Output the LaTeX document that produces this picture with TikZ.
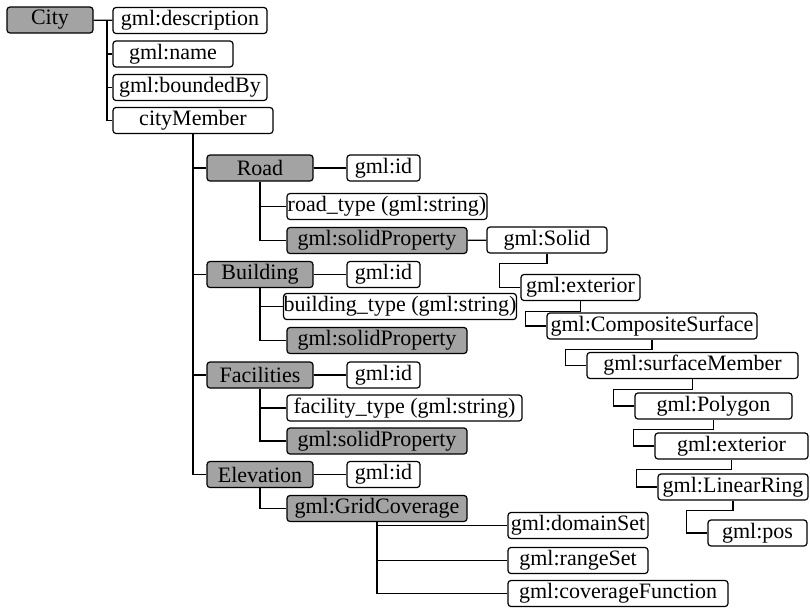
\documentclass[tikz,border=0pt]{standalone}
\usepackage{fontspec}
\setmainfont{Liberation Serif}
\usepackage{tikz}

\begin{document}
\begin{tikzpicture}[
    x=0.5pt, y=-0.5pt,
    every node/.style={font=\fontsize{11}{12}\selectfont},
    attr/.style={rectangle, draw, rounded corners=1.5pt, minimum height=13pt, inner sep=0pt, line width=0.6pt},
    elem/.style={attr, fill=black!36},
    ln/.style={line width=0.6pt},
  ]
  \useasboundingbox (0,0) rectangle (810,607);
  % root
  \node[elem, minimum width=43pt] (city) at (50, 20) {City};
  \node[attr, minimum width=77pt] (desc) at (190, 20.5) {gml:description};
  \node[attr, minimum width=60pt] (name) at (173, 54) {gml:name};
  \node[attr, minimum width=77pt] (bbox) at (190, 87.5) {gml:boundedBy};
  \node[attr, minimum width=80pt] (member) at (193, 120.5) {cityMember};
  % features
  \node[elem, minimum width=53pt] (road) at (260, 168) {Road};
  \node[attr, minimum width=36.5pt] (roadid) at (383.5, 168) {gml:id};
  \node[attr, minimum width=100pt] (roadtype) at (387, 206.5) {road\_type (gml:string)};
  \node[elem, minimum width=90pt] (roadsolid) at (377, 240.5) {gml:solidProperty};
  \node[elem, minimum width=53pt] (bld) at (260, 274.5) {Building};
  \node[attr, minimum width=36.5pt] (bldid) at (383.5, 274.5) {gml:id};
  \node[attr, minimum width=113pt] (bldtype) at (400, 306.5) {building\_type (gml:string)};
  \node[elem, minimum width=90pt] (bldsolid) at (377, 340.5) {gml:solidProperty};
  \node[elem, minimum width=53pt] (fac) at (260, 375) {Facilities};
  \node[attr, minimum width=36.5pt] (facid) at (383.5, 375) {gml:id};
  \node[attr, minimum width=117.5pt] (factype) at (404.5, 408) {facility\_type (gml:string)};
  \node[elem, minimum width=90pt] (facsolid) at (377, 441) {gml:solidProperty};
  \node[elem, minimum width=53pt] (elev) at (260, 474.5) {Elevation};
  \node[attr, minimum width=36.5pt] (elevid) at (383.5, 474.5) {gml:id};
  \node[elem, minimum width=90pt] (grid) at (377, 508.5) {gml:GridCoverage};
  % coverage
  \node[attr, minimum width=70pt] (domain) at (578, 525.5) {gml:domainSet};
  \node[attr, minimum width=70pt] (range) at (578, 560.5) {gml:rangeSet};
  \node[attr, minimum width=110pt] (covfn) at (618, 593.5) {gml:coverageFunction};
  % geometry
  \node[attr, minimum width=60pt] (solid) at (547, 240) {gml:Solid};
  \node[attr, minimum width=59.5pt] (ext1) at (580.5, 287.5) {gml:exterior};
  \node[attr, minimum width=105pt] (comp) at (652, 326) {gml:CompositeSurface};
  \node[attr, minimum width=105.5pt] (surf) at (692.5, 365.5) {gml:surfaceMember};
  \node[attr, minimum width=78.5pt] (poly) at (713.5, 406) {gml:Polygon};
  \node[attr, minimum width=76.5pt] (ext2) at (731.5, 446) {gml:exterior};
  \node[attr, minimum width=75pt] (ring) at (733, 487) {gml:LinearRing};
  \node[attr, minimum width=49.5pt] (pos) at (757.5, 533) {gml:pos};

  \coordinate (t0) at (107, 20);
  \draw[ln] (city) -- (desc);
  \foreach \c in {name, bbox, member}
    \draw[ln] (t0) |- (\c);
  \foreach \c in {road, bld, fac, elev}
    \draw[ln] (member.south) |- (\c);
  \draw[ln] (road) -- (roadid);
  \draw[ln] (bld) -- (bldid);
  \draw[ln] (fac) -- (facid);
  \draw[ln] (elev) -- (elevid);
  \draw[ln] (road.south) |- (roadtype);
  \draw[ln] (road.south) |- (roadsolid);
  \draw[ln] (bld.south) |- (bldtype);
  \draw[ln] (bld.south) |- (bldsolid);
  \draw[ln] (fac.south) |- (factype);
  \draw[ln] (fac.south) |- (facsolid);
  \draw[ln] (elev.south) |- (grid);
  \foreach \c in {domain, range, covfn}
    \draw[ln] (grid.south) |- (\c);
  \draw[ln] (roadsolid) -- (solid);
  \foreach \a/\b in {solid/ext1, ext1/comp, comp/surf, surf/poly, poly/ext2, ext2/ring, ring/pos}
    \draw[ln] (\a.south) -- ++(0,10) -| ([xshift=-10.5pt]\b.west) -- (\b.west);
\end{tikzpicture}
\end{document}
